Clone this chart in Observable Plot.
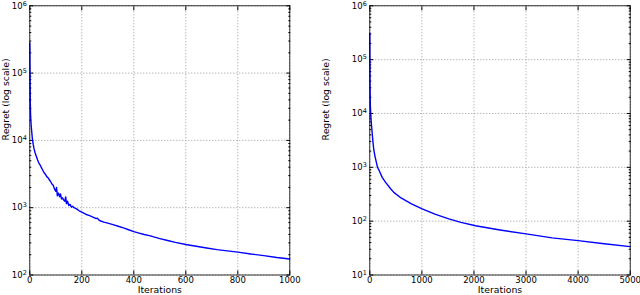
<!DOCTYPE html>
<html>
<head>
<meta charset="utf-8">
<script src="https://cdn.jsdelivr.net/npm/d3@7"></script>
<script src="https://cdn.jsdelivr.net/npm/@observablehq/plot@0.6"></script>
<style>
  html, body { margin: 0; padding: 0; background: #fff; }
  #wrap { display: flex; width: 640px; height: 295px; }
  svg { font-family: "DejaVu Sans", sans-serif; overflow: visible; }
</style>
</head>
<body>
<div id="wrap"></div>
<script>
// Left panel: 1000 iterations
const leftIter = [0,1,2,3,5,7,10,13,16,20,25,30,35,40,45,50,55,60,65,70,75,80,85,90,95,100,103,106,110,115,118,122,126,130,135,138,141,145,150,155,160,165,170,180,190,200,215,230,245,255,260,265,270,285,300,320,340,360,380,400,420,440,460,480,500,530,560,600,640,680,720,760,800,850,900,950,1000];
const leftRegret = [280000,90000,35000,24000,17000,14000,10500,8800,7600,6600,5800,5100,4600,4300,3900,3600,3300,3150,2900,2800,2600,2450,2250,2150,1900,1750,2000,1500,1650,1450,1600,1350,1400,1300,1250,1450,1150,1250,1080,1120,1020,1050,1000,960,900,860,800,760,720,690,700,660,640,610,590,560,530,500,470,440,420,400,385,365,348,325,305,284,268,252,238,228,219,205,194,182,173];

// Right panel: 5000 iterations
const rightIter = [0,2,5,10,20,30,46,60,77,100,148,173,238,300,400,461,600,800,1006,1250,1517,1750,2030,2500,3000,3500,4000,4500,5000];
const rightRegret = [310000,100000,30000,14000,9000,6500,4300,3000,2100,1600,1000,900,650,530,400,343,270,210,169,135,110,95,82,68.6,58,49,43.4,38,33.6];

const leftXTicks = [0,200,400,600,800,1000];
const rightXTicks = [0,1000,2000,3000,4000,5000];
const leftYTicks = [1e2,1e3,1e4,1e5,1e6];
const rightYTicks = [1e1,1e2,1e3,1e4,1e5,1e6];

const xLabel = "Iterations";
const yLabel = "Regret (log scale)";

const powFmt = d => "10^" + Math.round(Math.log10(d));
const minorOf = ticks => {
  const out = [];
  for (let i = 0; i < ticks.length - 1; i++) for (let k = 2; k <= 9; k++) out.push(ticks[i] * k);
  return out;
};

function panel(xs, ys, xTicks, yTicks, opts) {
  const data = xs.map((x, i) => ({x, y: ys[i]}));
  const minor = minorOf(yTicks);
  const svg = Plot.plot({
    width: 320,
    height: 295,
    marginTop: 5.3,
    marginBottom: 20.5,
    marginLeft: opts.ml,
    marginRight: opts.mr,
    style: {fontSize: "8.5px", fontFamily: "DejaVu Sans, sans-serif", color: "#000", background: "#fff", overflow: "visible"},
    x: {domain: [xTicks[0], xTicks[xTicks.length - 1]]},
    y: {type: "log", domain: [yTicks[0], yTicks[yTicks.length - 1]]},
    marks: [
      Plot.gridX(xTicks, {stroke: "#999", strokeOpacity: 1, strokeDasharray: "1,2"}),
      Plot.gridY(yTicks, {stroke: "#999", strokeOpacity: 1, strokeDasharray: "1,2"}),
      Plot.axisX(xTicks, {tickSize: 0, tickPadding: 2, tickFormat: d => String(d), label: null}),
      Plot.axisY(yTicks, {tickSize: 0, tickPadding: 3, tickFormat: powFmt, label: null}),
      Plot.text([xLabel], {text: d => d, frameAnchor: "bottom", lineAnchor: "bottom", dy: 17.5, fontSize: 9.3}),
      Plot.text([yLabel], {text: d => d, frameAnchor: "left", rotate: -90, lineAnchor: "top", dx: -(opts.ml - 1.8), fontSize: 9.3}),
      Plot.axisY(yTicks, {anchor: "left", tickSize: -4, tickFormat: () => "", label: null}),
      Plot.axisY(minor, {anchor: "left", tickSize: -2, tickFormat: () => "", label: null}),
      Plot.axisY(yTicks, {anchor: "right", tickSize: -4, tickFormat: () => "", label: null}),
      Plot.axisY(minor, {anchor: "right", tickSize: -2, tickFormat: () => "", label: null}),
      Plot.axisX(xTicks, {anchor: "bottom", tickSize: -4, tickFormat: () => "", label: null}),
      Plot.axisX(xTicks, {anchor: "top", tickSize: -4, tickFormat: () => "", label: null}),
      Plot.line(data, {x: "x", y: "y", stroke: "#0000ff", strokeWidth: 1.4}),
      Plot.frame({stroke: "#000", strokeWidth: 0.8})
    ]
  });
  // render exponents as raised superscripts
  d3.select(svg).selectAll("text").each(function() {
    const t = d3.select(this);
    const m = /^10\^(\d+)$/.exec(t.text());
    if (!m) return;
    t.text(null);
    t.append("tspan").text("10");
    t.append("tspan").attr("dy", "-0.45em").attr("font-size", "6.5px").text(m[1]);
  });
  return svg;
}

const wrap = document.getElementById("wrap");
wrap.append(panel(leftIter, leftRegret, leftXTicks, leftYTicks, {ml: 29.3, mr: 30.7}));
wrap.append(panel(rightIter, rightRegret, rightXTicks, rightYTicks, {ml: 49.3, mr: 10.3}));
</script>
</body>
</html>
